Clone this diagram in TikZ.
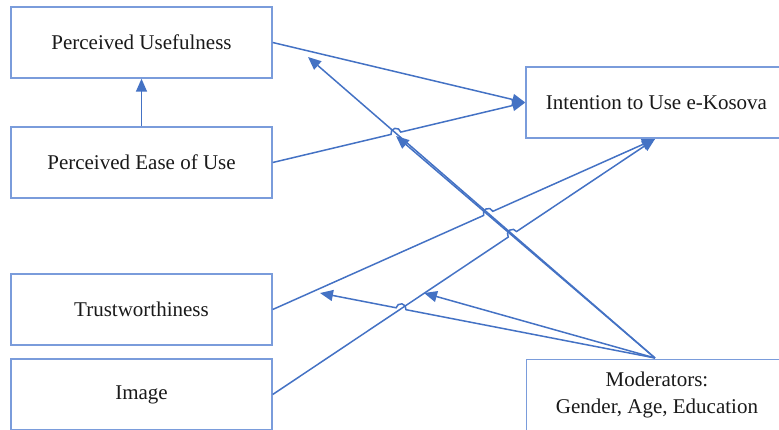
\documentclass[tikz,border=0pt]{standalone}
\usepackage{fontspec}
\setmainfont{Liberation Serif}
\newfontfamily\boxfont{Liberation Serif}
\usetikzlibrary{arrows.meta,calc,intersections}
\definecolor{lineblue}{HTML}{4472C4}
\definecolor{boxblue}{HTML}{7A9CDB}
\definecolor{txt}{HTML}{1A1A1A}
\begin{document}
\begin{tikzpicture}[x=1pt,y=-1pt,
  box/.style={draw=boxblue,line width=1.4pt,fill=white,minimum width=261pt,minimum height=71pt,
    inner sep=0pt,text=txt,font=\boxfont\fontsize{21}{26.5}\selectfont,align=center},
  conn/.style={draw=lineblue,line width=1.5pt},
  arr/.style={conn,-{Triangle[length=13pt,width=11pt]}}]
\useasboundingbox (0,0) rectangle (779,429);
\clip (0,0) rectangle (779,429);

% boxes
\node[box] (pu)    at (141.5,42.5)  {Perceived Usefulness};
\node[box] (peou)  at (141.5,162.5) {Perceived Ease of Use};
\node[box] (trust) at (141.5,309.5) {Trustworthiness};
\node[box] (img)   at (141.5,394.5) {Image};
\node[box] (int)   at (656.5,102.5) {Intention to Use e-Kosova};
\node[box] (mod)   at (657,395)     {Moderators:\\Gender, Age, Education};

% free ends of moderator arrows
\coordinate (ms) at (655,358);
\coordinate (m1) at (308,57);
\coordinate (m2) at (396,136);
\coordinate (m3) at (320,293);
\coordinate (m4) at (424,293);
\coordinate (ie) at (655,139);

% invisible paths for crossings
\path[name path=pM1] (ms) -- (m1);
\path[name path=pPE] (peou.east) -- (int.west);
\path[name path=pTR] (trust.east) -- (ie);
\path[name path=pIM] (img.east) -- (ie);
\path[name path=pM3] (ms) -- (m3);
\path[name intersections={of=pPE and pM1,by=x1}];
\path[name intersections={of=pTR and pM1,by=x2}];
\path[name intersections={of=pIM and pM1,by=x3}];
\path[name intersections={of=pM3 and pIM,by=x4}];

% connectors
\draw[arr] (pu.east) -- (int.west);
\draw[arr] (peou.north) -- (pu.south);
\draw[arr] let \p1=($(int.west)-(peou.east)$), \n1={atan2(\y1,\x1)} in
  (peou.east) -- ($(x1)!5pt!(peou.east)$) arc[start angle=\n1+180, end angle=\n1, radius=5pt] -- (int.west);
\draw[arr] let \p1=($(ie)-(trust.east)$), \n1={atan2(\y1,\x1)} in
  (trust.east) -- ($(x2)!5pt!(trust.east)$) arc[start angle=\n1+180, end angle=\n1, radius=5pt] -- (ie);
\draw[arr] let \p1=($(ie)-(img.east)$), \n1={atan2(\y1,\x1)} in
  (img.east) -- ($(x3)!5pt!(img.east)$) arc[start angle=\n1+180, end angle=\n1, radius=5pt] -- (ie);

\draw[arr] (ms) -- (m1);
\draw[arr] (ms) -- (m2);
\draw[arr] let \p1=($(m3)-(ms)$), \n1={atan2(\y1,\x1)} in
  (ms) -- ($(x4)!5pt!(ms)$) arc[start angle=\n1+180, end angle=\n1+360, radius=5pt] -- (m3);
\draw[arr] (ms) -- (m4);
\end{tikzpicture}
\end{document}
